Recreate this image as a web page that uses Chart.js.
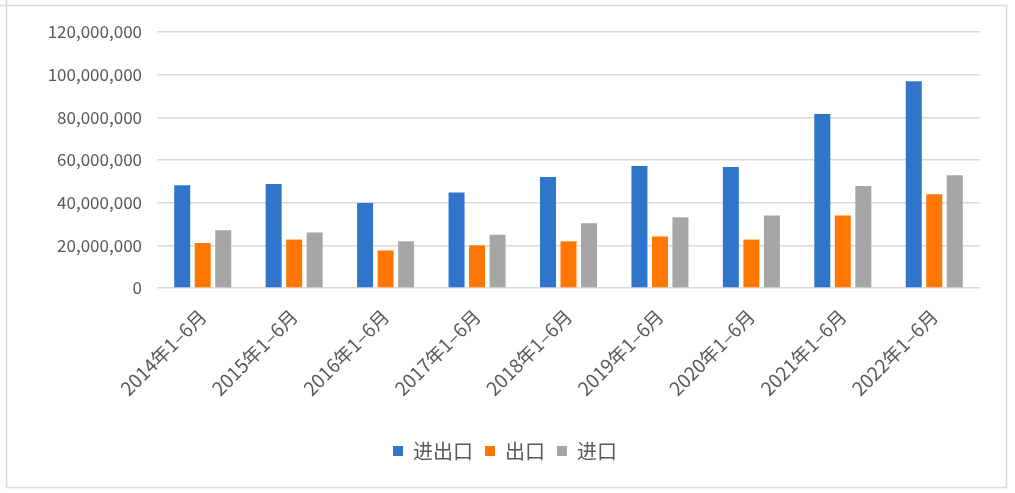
<!DOCTYPE html>
<html>
<head>
<meta charset="utf-8">
<script src="https://cdn.jsdelivr.net/npm/chart.js@4/dist/chart.umd.min.js"></script>
<style>
  html, body { margin: 0; padding: 0; background: #ffffff; }
  #wrap { width: 1015px; height: 493px; position: relative; }
</style>
</head>
<body>
<div id="wrap"><canvas id="c" width="1015" height="493"></canvas></div>
<script>
const categories = ["2014年1–6月","2015年1–6月","2016年1–6月","2017年1–6月","2018年1–6月","2019年1–6月","2020年1–6月","2021年1–6月","2022年1–6月"];
const seriesNames = ["进出口","出口","进口"];
const totalTrade = [48200000, 48700000, 39800000, 44800000, 52000000, 57200000, 56700000, 81600000, 96900000];
const exportsVal = [21100000, 22700000, 17600000, 20000000, 21900000, 24100000, 22700000, 34000000, 44000000];
const importsVal = [27100000, 26000000, 21900000, 25000000, 30400000, 33200000, 34000000, 47800000, 52900000];
const yTicks = [0, 20000000, 40000000, 60000000, 80000000, 100000000, 120000000];

const textColor = "#595959";
const fontFamily = "'Noto Sans CJK SC', 'Noto Sans', sans-serif";

const framePlugin = {
  id: "frame",
  beforeDraw(chart) {
    const ctx = chart.ctx;
    ctx.save();
    ctx.fillStyle = "#ffffff";
    ctx.fillRect(0, 0, chart.width, chart.height);
    ctx.strokeStyle = "#D9D9D9";
    ctx.lineWidth = 1.5;
    ctx.beginPath();
    ctx.moveTo(0, 5.5); ctx.lineTo(1006.5, 5.5);
    ctx.lineTo(1006.5, 487.5); ctx.lineTo(6.5, 487.5);
    ctx.lineTo(6.5, 0);
    ctx.stroke();
    ctx.restore();
  }
};

new Chart(document.getElementById("c"), {
  type: "bar",
  data: {
    labels: categories,
    datasets: [
      { label: seriesNames[0], data: totalTrade, backgroundColor: "#3075CC" },
      { label: seriesNames[1], data: exportsVal, backgroundColor: "#FF7700" },
      { label: seriesNames[2], data: importsVal, backgroundColor: "#A6A6A6" }
    ]
  },
  options: {
    responsive: false,
    animation: false,
    devicePixelRatio: 1,
    datasets: { bar: { categoryPercentage: 0.673, barPercentage: 0.78 } },
    layout: { padding: { left: 30, right: 35, top: 32, bottom: 22 } },
    plugins: {
      legend: {
        position: "bottom",
        labels: {
          boxWidth: 10, boxHeight: 10, padding: 12,
          color: textColor,
          font: { family: fontFamily, size: 20 }
        }
      },
      tooltip: { enabled: false }
    },
    scales: {
      x: {
        grid: { display: false, drawTicks: false },
        border: { display: false },
        afterFit(scale) { scale.height = 141; },
        ticks: {
          color: textColor,
          font: { family: fontFamily, size: 19 },
          maxRotation: 45, minRotation: 45,
          padding: 17,
          autoSkip: false
        }
      },
      y: {
        min: 0, max: 120000000,
        afterBuildTicks(scale) { scale.ticks = yTicks.map(v => ({ value: v })); },
        afterFit(scale) { scale.width = 127; },
        grid: { color: "#D9D9D9", lineWidth: 1.5, drawTicks: false },
        border: { display: false },
        ticks: {
          color: textColor,
          font: { family: fontFamily, size: 17 },
          padding: 15,
          callback: (v) => Number(v).toLocaleString("en-US")
        }
      }
    }
  },
  plugins: [framePlugin]
});
</script>
</body>
</html>
